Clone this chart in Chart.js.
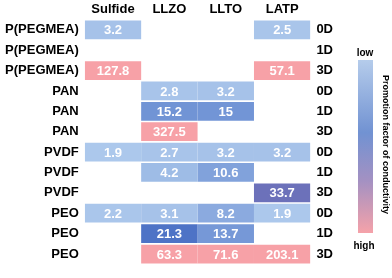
<!DOCTYPE html>
<html>
<head>
<meta charset="utf-8">
<script src="https://cdn.jsdelivr.net/npm/chart.js@4/dist/chart.umd.min.js"></script>
<style>
  html, body { margin: 0; padding: 0; background: #fff; }
  #wrap { width: 392px; height: 278px; }
</style>
</head>
<body>
<div id="wrap"><canvas id="c"></canvas></div>
<script>
const columns = ['Sulfide', 'LLZO', 'LLTO', 'LATP']
const polymers = ['P(PEGMEA)', 'P(PEGMEA)', 'P(PEGMEA)', 'PAN', 'PAN', 'PAN', 'PVDF', 'PVDF', 'PVDF', 'PEO', 'PEO', 'PEO']
const dims = ['0D', '1D', '3D', '0D', '1D', '3D', '0D', '1D', '3D', '0D', '1D', '3D']

const sulfide = [3.2, null, 127.8, null, null, null, 1.9, null, null, 2.2, null, null]
const llzo = [null, null, null, 2.8, 15.2, 327.5, 2.7, 4.2, null, 3.1, 21.3, 63.3]
const llto = [null, null, null, 3.2, 15, null, 3.2, 10.6, null, 8.2, 13.7, 71.6]
const latp = [2.5, null, 57.1, null, null, null, 3.2, null, 33.7, 1.9, null, 203.1]
const series = [sulfide, llzo, llto, latp]

// colour stops, value -> rgb (interpolated on log of value)
const stops = [
  [1.9, [172, 200, 236]],
  [3.2, [166, 194, 233]],
  [4.2, [158, 188, 230]],
  [9, [136, 168, 222]],
  [15, [114, 149, 214]],
  [21.3, [78, 115, 198]],
  [33.7, [108, 113, 186]],
  [57, [247, 161, 167]]
]
function cellColor(v) {
  if (v <= stops[0][0]) return 'rgb(' + stops[0][1] + ')'
  for (let i = 1; i < stops.length; i++) {
    if (v <= stops[i][0]) {
      const a = stops[i - 1], b = stops[i]
      const t = (Math.log(v) - Math.log(a[0])) / (Math.log(b[0]) - Math.log(a[0]))
      const c = a[1].map((x, k) => Math.round(x + (b[1][k] - x) * t))
      return 'rgb(' + c + ')'
    }
  }
  return 'rgb(' + stops[stops.length - 1][1] + ')'
}

const FONT = '"Liberation Sans", Arial, sans-serif'

const datasets = series.map((vals, j) => ({
  label: columns[j],
  data: vals.map(v => v == null ? null : [j, j + 1]),
  backgroundColor: vals.map(v => v == null ? 'rgba(0,0,0,0)' : cellColor(v)),
  borderWidth: 0,
  grouped: false,
  barPercentage: 0.92,
  categoryPercentage: 1
}))

// white numbers inside the cells
const cellText = {
  id: 'cellText',
  afterDatasetsDraw(chart) {
    const ctx = chart.ctx
    ctx.save()
    ctx.fillStyle = '#fff'
    ctx.font = 'bold 13px ' + FONT
    ctx.textAlign = 'center'
    ctx.textBaseline = 'middle'
    chart.data.datasets.forEach((ds, j) => {
      chart.getDatasetMeta(j).data.forEach((el, i) => {
        const v = series[j][i]
        if (v == null) return
        const p = el.getCenterPoint()
        ctx.fillText(String(v), p.x, p.y + 1)
      })
    })
    ctx.restore()
  }
}

// colour bar at the right side
const colorBar = {
  id: 'colorBar',
  afterDraw(chart) {
    const ctx = chart.ctx
    const x = 358, w = 15, top = 60, bottom = 233
    ctx.save()
    const g = ctx.createLinearGradient(0, top, 0, bottom)
    g.addColorStop(0, '#b5cceb')
    g.addColorStop(0.42, '#7192d2')
    g.addColorStop(0.7, '#a491c2')
    g.addColorStop(1, '#f5a2a9')
    ctx.fillStyle = g
    ctx.fillRect(x, top, w, bottom - top)
    ctx.fillStyle = '#000'
    ctx.font = 'bold 10px ' + FONT
    ctx.textAlign = 'center'
    ctx.textBaseline = 'middle'
    ctx.fillText('low', x + 7, 53)
    ctx.fillText('high', x + 6, 246)
    ctx.translate(385, (top + bottom) / 2 - 2)
    ctx.rotate(Math.PI / 2)
    ctx.font = 'bold 9px ' + FONT
    ctx.fillText('Promotion factor of conductivity', 0, 0)
    ctx.restore()
  }
}

new Chart(document.getElementById('c'), {
  type: 'bar',
  data: { labels: polymers, datasets },
  options: {
    indexAxis: 'y',
    responsive: true,
    maintainAspectRatio: false,
    animation: false,
    layout: { padding: { left: 0, right: 53, top: 0, bottom: 3 } },
    plugins: { legend: { display: false }, tooltip: { enabled: false } },
    scales: {
      x: {
        type: 'linear',
        position: 'top',
        min: 0,
        max: 4,
        afterBuildTicks: axis => { axis.ticks = columns.map((c, i) => ({ value: i + 0.5 })) },
        ticks: {
          callback: v => columns[Math.floor(v)],
          color: '#000',
          font: { family: FONT, size: 13, weight: 'bold' },
          padding: 2,
          maxRotation: 0
        },
        grid: { display: false, drawTicks: false },
        border: { display: false }
      },
      y: {
        type: 'category',
        offset: true,
        ticks: { color: '#000', font: { family: FONT, size: 13, weight: 'bold' }, padding: 6 },
        grid: { display: false, drawTicks: false },
        border: { display: false }
      },
      y2: {
        type: 'category',
        position: 'right',
        labels: dims,
        offset: true,
        ticks: { color: '#000', font: { family: FONT, size: 13, weight: 'bold' }, padding: 6 },
        grid: { display: false, drawTicks: false },
        border: { display: false }
      }
    }
  },
  plugins: [cellText, colorBar]
})
</script>
</body>
</html>
